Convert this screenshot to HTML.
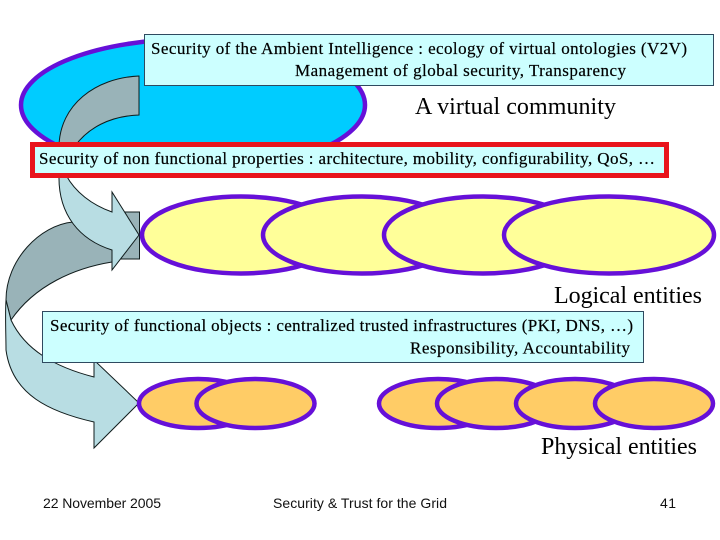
<!DOCTYPE html>
<html><head><meta charset="utf-8"><style>
html,body{margin:0;padding:0;background:#fff;width:720px;height:540px;overflow:hidden}
svg{display:block}
.s{font-family:"Liberation Serif",serif;font-size:17px;fill:#000;stroke:#000;stroke-width:.2px}
.l{font-family:"Liberation Serif",serif;font-size:24px;fill:#000}
.f{font-family:"Liberation Sans",sans-serif;font-size:14px;fill:#111}
</style></head><body>
<svg width="720" height="540" viewBox="0 0 720 540" xmlns="http://www.w3.org/2000/svg">
<ellipse cx="193" cy="105" rx="172" ry="66" fill="#00ccff" stroke="#6610d8" stroke-width="4.500"/>
<g stroke="#101c1c" stroke-width="1">
<path d="M112 262C75 268 35 285 11 320L6 300C6 260 40 225 73 222C85 216 100 212 112 212Z" fill="#99b3b8"/>
<rect x="112" y="212" width="27.500" height="47" fill="#99b3b8"/>
<path d="M6 300C5 315 6 335 6 350C12 395 50 412 94 422L94 448L139 403L94 360L94 377C55 367 25 350 11 320Z" fill="#b8dde3"/>
<path d="M139 76L139 115C110 116 88 128 75 146L59 146C60 105 95 78 139 76Z" fill="#99b3b8"/>
<path d="M59 175C58 215 80 240 112 250L112 270L139 235L112 192L112 212C92 205 75 192 66 175Z" fill="#b8dde3"/>
</g>
<g fill="#ffff99" stroke="#6610d8" stroke-width="4.500">
<ellipse cx="241" cy="235" rx="99" ry="38.500"/>
<ellipse cx="362" cy="235" rx="99" ry="38.500"/>
<ellipse cx="483" cy="235" rx="99" ry="38.500"/>
<ellipse cx="609" cy="235" rx="105" ry="38.500"/>
</g>
<g fill="#ffcc66" stroke="#6610d8" stroke-width="4.500">
<ellipse cx="198" cy="403.500" rx="59" ry="24.500"/>
<ellipse cx="255.500" cy="403.500" rx="59" ry="24.500"/>
<ellipse cx="438" cy="403.500" rx="59" ry="24.500"/>
<ellipse cx="496" cy="403.500" rx="59" ry="24.500"/>
<ellipse cx="575" cy="403.500" rx="59" ry="24.500"/>
<ellipse cx="654" cy="403.500" rx="59" ry="24.500"/>
</g>
<rect x="144.500" y="34.500" width="569" height="51" fill="#ccffff" stroke="#2f4a60"/>
<rect x="32.500" y="144.500" width="634" height="31" fill="#ccffff" stroke="#e8141c" stroke-width="5"/>
<rect x="42.500" y="311.500" width="601" height="51" fill="#ccffff" stroke="#2f4a60"/>
<text class="s" x="151" y="54" textLength="536">Security of the Ambient Intelligence : ecology of virtual ontologies (V2V)</text>
<text class="s" x="295" y="76" textLength="331">Management of global security, Transparency</text>
<text class="l" x="415" y="114" textLength="201">A virtual community</text>
<text class="s" x="39" y="164" textLength="616">Security of non functional properties : architecture, mobility, configurability, QoS, …</text>
<text class="l" x="554" y="303" textLength="148">Logical entities</text>
<text class="s" x="50" y="331" textLength="583">Security of functional objects : centralized trusted infrastructures (PKI, DNS, …)</text>
<text class="s" x="410" y="353.500" textLength="220">Responsibility, Accountability</text>
<text class="l" x="541" y="454" textLength="156">Physical entities</text>
<text class="f" x="43" y="508" textLength="118">22 November 2005</text>
<text class="f" x="273" y="508" textLength="174">Security &amp; Trust for the Grid</text>
<text class="f" x="660" y="508" textLength="16">41</text>
</svg>
</body></html>
